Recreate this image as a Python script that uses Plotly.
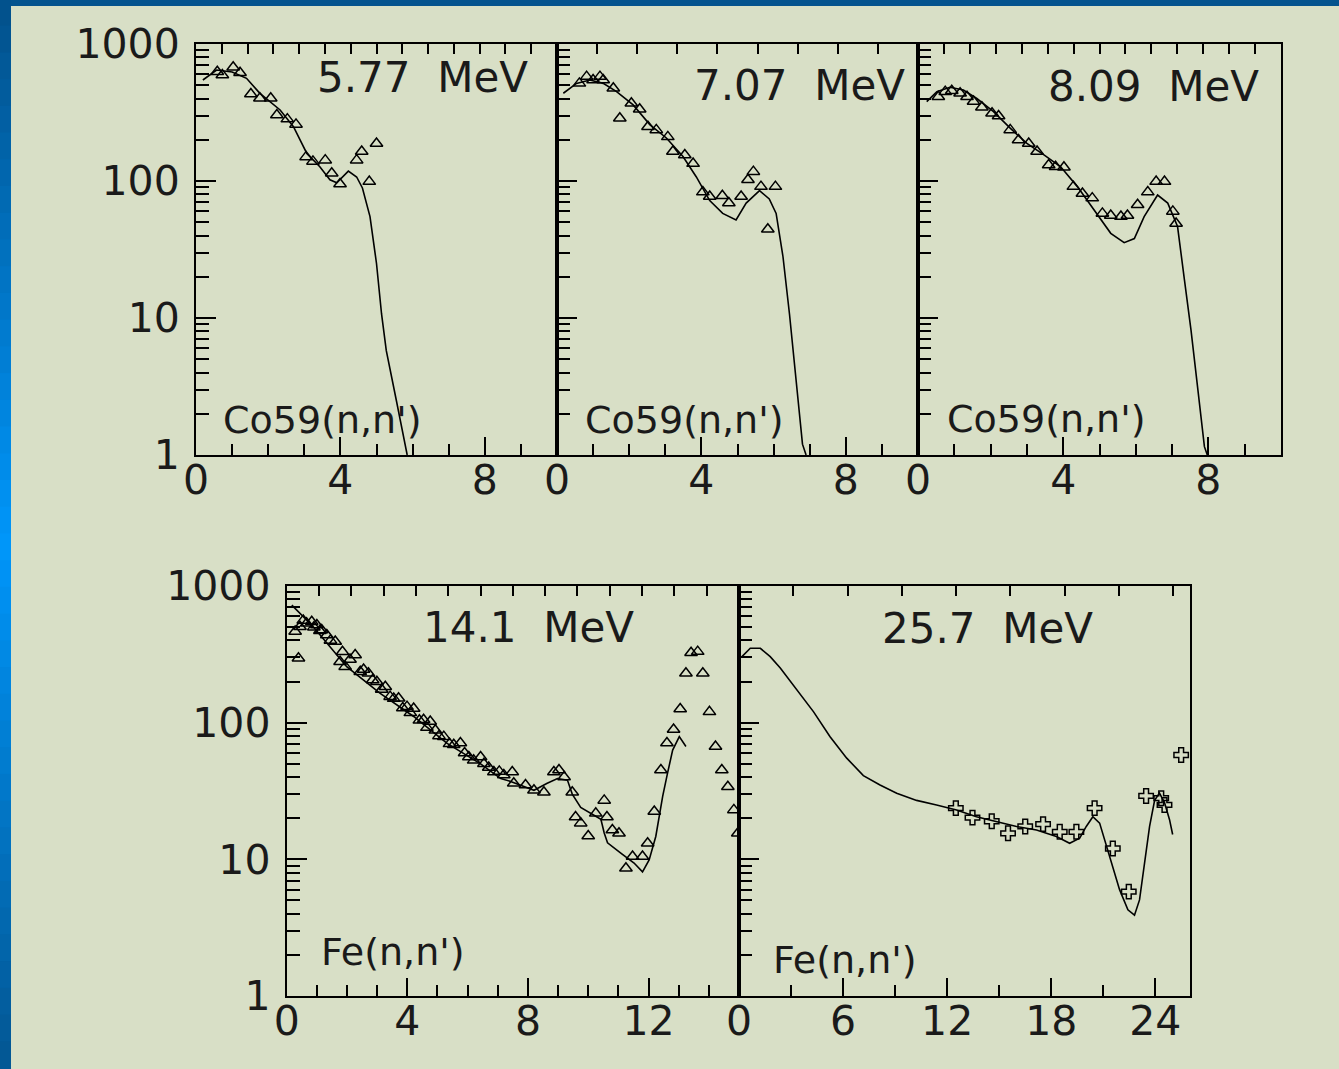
import plotly.graph_objects as go

# ---------------- data ----------------
# Panel 1: Co59(n,n') 5.77 MeV
p1_curve_x = [0.19, 0.57, 1.0, 1.4, 1.77, 2.33, 2.7, 3.07, 3.43, 3.71, 3.9, 4.22, 4.45, 4.61, 4.82, 5.0, 5.14, 5.27, 5.55, 5.85]
p1_curve_y = [546, 646, 625, 562, 436, 330, 249, 159, 127, 102, 97, 118, 107, 89, 55, 25, 10.7, 5.8, 2.5, 1.0]
p1_pts_x = [0.59, 0.73, 1.03, 1.22, 1.52, 1.77, 2.07, 2.24, 2.53, 2.77, 3.05, 3.24, 3.58, 3.76, 3.99, 4.45, 4.59, 5.0, 4.80]
p1_pts_y = [628, 594, 676, 617, 431, 402, 402, 303, 283, 259, 150, 139, 142, 114, 95, 142, 164, 188, 99]

# Panel 2: Co59(n,n') 7.07 MeV
p2_curve_x = [0.175, 0.54, 0.91, 1.28, 1.65, 2.11, 2.57, 3.03, 3.49, 3.86, 4.23, 4.59, 4.96, 5.24, 5.61, 5.88, 6.07, 6.26, 6.44, 6.62, 6.80, 6.9]
p2_curve_y = [437, 516, 546, 516, 449, 359, 258, 206, 151, 107, 72, 58, 52, 69, 85, 74, 58, 28, 10.7, 3.5, 1.2, 1.0]
p2_pts_x = [0.62, 0.82, 1.0, 1.19, 1.28, 1.56, 1.74, 2.06, 2.29, 2.52, 2.75, 3.07, 3.21, 3.54, 3.77, 4.04, 4.23, 4.58, 4.76, 5.10, 5.29, 5.44, 5.65, 6.05, 5.84]
p2_pts_y = [516, 578, 546, 578, 546, 475, 287, 369, 334, 249, 236, 210, 164, 155, 134, 83, 77, 78, 69, 77, 102, 117, 91, 91, 44.5]

# Panel 3: Co59(n,n') 8.09 MeV
p3_curve_x = [0.24, 0.52, 0.88, 1.25, 1.62, 2.08, 2.54, 3.0, 3.47, 3.93, 4.39, 4.85, 5.31, 5.68, 5.96, 6.23, 6.60, 6.88, 7.15, 7.34, 7.52, 7.71, 7.89, 7.97]
p3_curve_y = [380, 449, 483, 461, 400, 321, 243, 188, 155, 127, 91, 61.6, 41.5, 35.5, 38, 55, 79, 69, 46.5, 19, 8.2, 3.0, 1.15, 1.0]
p3_pts_x = [0.56, 0.75, 0.93, 1.16, 1.35, 1.53, 1.76, 2.04, 2.22, 2.54, 2.77, 3.05, 3.28, 3.60, 3.79, 4.02, 4.28, 4.53, 4.80, 5.08, 5.31, 5.59, 5.77, 6.05, 6.33, 6.56, 6.79, 7.02, 7.11]
p3_pts_y = [412, 449, 456, 437, 412, 380, 345, 312, 298, 236, 199, 188, 164, 131, 127, 126, 91, 81, 75, 58, 56, 55, 56, 67, 83, 99, 99, 60, 49]

# Panel 4: Fe(n,n') 14.1 MeV
p4_curve_x = [0.17, 0.5, 0.77, 0.88, 1.99, 3.10, 4.21, 5.32, 6.43, 7.1, 7.45, 8.2, 8.64, 8.98, 9.31, 9.47, 9.75, 10.08, 10.42, 10.53, 10.64, 11.08, 11.52, 11.8, 12.02, 12.24, 12.47, 12.63, 12.80, 13.02, 13.24]
p4_curve_y = [724, 610, 533, 503, 257, 164, 111, 70.5, 50, 39, 37, 32, 36, 39, 38, 30, 24, 21.7, 19.6, 15.6, 13.2, 11.1, 9.4, 8.1, 9.9, 14.7, 29, 42.7, 63, 79, 67]
p4_pts_x = [0.39, 0.28, 0.44, 0.66, 0.83, 1.0, 1.16, 1.33, 1.61, 1.77, 1.94, 2.27, 2.44, 2.71, 2.99, 3.27, 3.43, 3.71, 3.99,
            4.21, 4.54, 4.76, 4.93, 5.21, 5.54, 5.76, 6.04, 6.43, 6.54, 6.87, 7.2, 7.48, 7.53, 7.92, 8.2, 8.53, 8.86,
            9.03, 9.2, 9.47, 9.58, 9.75, 10.0, 10.25, 10.53, 10.62, 10.8, 11.02, 11.25, 11.47, 11.8, 11.97, 12.19,
            12.41, 12.61, 12.83, 13.05, 13.24, 13.41, 13.63, 13.80, 14.02, 14.22, 14.43, 14.63, 14.83, 14.96,
            0.55, 0.9, 1.1, 1.45, 1.85, 2.1, 2.55, 2.85, 3.15, 3.55, 3.85, 4.1, 4.4, 4.65, 5.05, 5.4, 5.9, 6.2, 6.7, 7.05]
p4_pts_y = [296, 464, 503, 533, 548, 519, 477, 438, 392, 279, 257, 313, 236, 230, 199, 183, 155, 151, 131,
            127, 105, 102, 88, 79, 69, 71, 56, 56, 50, 43.6, 41.4, 43.6, 36, 35, 32, 31, 43.6,
            45, 40, 31, 20.4, 18.4, 14.8, 21.7, 27, 20.4, 16.4, 15.5, 8.6, 10.5, 10.5, 13.1, 22.4,
            45, 71, 89, 126, 230, 325, 331, 230, 120, 67, 45, 34, 23, 15.5,
            560, 500, 470, 400, 330, 290, 245, 205, 175, 150, 128, 118, 104, 92, 80, 70, 60, 53, 47, 44]

# Panel 5: Fe(n,n') 25.7 MeV
p5_curve_x = [0.17, 0.65, 1.23, 1.80, 2.38, 3.34, 4.30, 5.25, 6.21, 7.17, 8.13, 9.09, 10.24, 11.39, 12.54, 13.69, 14.84, 16.0,
              17.15, 18.3, 19.06, 19.64, 20.02, 20.4, 20.79, 21.36, 21.94, 22.42, 22.8, 23.09, 23.38, 23.67, 23.96, 24.24,
              24.53, 24.82, 25.0]
p5_curve_y = [304, 350, 350, 304, 251, 174, 120, 79, 55, 41, 35, 30.5, 27, 25, 23, 20.5, 18.9, 17.4,
              16.4, 14.7, 13.1, 14.3, 17.4, 20.5, 18.4, 10.5, 6.0, 4.27, 3.9, 5.05, 9.3, 17.4, 27, 30.5,
              26, 19.5, 15.2]
p5_pts_x = [12.5, 13.46, 14.57, 15.51, 16.5, 17.53, 18.49, 19.45, 20.5, 21.55, 22.47, 23.47, 24.34, 24.53, 25.49]
p5_pts_y = [23.7, 20.2, 19.0, 15.5, 17.4, 18.1, 15.9, 15.9, 23.7, 12.0, 5.8, 29.1, 28, 25, 58]

energy_labels = ["5.77\u00a0\u00a0MeV", "7.07\u00a0\u00a0MeV", "8.09\u00a0\u00a0MeV", "14.1\u00a0\u00a0MeV", "25.7\u00a0\u00a0MeV"]
reaction_labels = ["Co59(n,n')", "Co59(n,n')", "Co59(n,n')", "Fe(n,n')", "Fe(n,n')"]
y_tickvals = [1, 10, 100, 1000]
y_ticktext = ["1", "10", "100", "1000"]

# ---------------- layout geometry ----------------
W, H = 1339, 1069
BG = "#d8dfc6"
FONT = "DejaVu Sans ExtraLight, DejaVu Sans"
TXT = "#1a1a1a"


def fx(px):
    return px / W


def fy(py):
    return 1 - py / H


panels = [
    # (x-pixel span, y-pixel span, xrange, major dtick, minor dtick, show y labels, top-tick range)
    ((196, 557), (44, 455), [0, 10], 4, 1, True, 14),
    ((557, 918), (44, 455), [0, 10], 4, 1, False, 9),
    ((918, 1281), (44, 455), [0, 10], 4, 1, False, 14),
    ((286.7, 739), (586, 996), [0, 15], 4, 1, True, 14),
    ((739, 1190), (586, 996), [0, 26], 6, 3, False, 8.31),
]
label_pos = [
    ((0.627, 0.918), (0.35, 0.085)),
    ((0.673, 0.898), (0.352, 0.085)),
    ((0.65, 0.896), (0.352, 0.087)),
    ((0.534, 0.90), (0.234, 0.108)),
    ((0.551, 0.897), (0.2355, 0.088)),
]

curves = [(p1_curve_x, p1_curve_y), (p2_curve_x, p2_curve_y), (p3_curve_x, p3_curve_y),
          (p4_curve_x, p4_curve_y), (p5_curve_x, p5_curve_y)]
points = [(p1_pts_x, p1_pts_y), (p2_pts_x, p2_pts_y), (p3_pts_x, p3_pts_y),
          (p4_pts_x, p4_pts_y), (p5_pts_x, p5_pts_y)]
symbols = ["triangle-up-open"] * 4 + ["cross-open"]

minor_y = [m * 10 ** d for d in range(3) for m in range(2, 10)]

fig = go.Figure()
layout = dict(
    width=W, height=H, margin=dict(l=0, r=0, t=0, b=0, pad=0, autoexpand=False),
    paper_bgcolor=BG, plot_bgcolor="rgba(0,0,0,0)", showlegend=False,
    font=dict(family=FONT, color=TXT),
)
annotations = []

for i, (xs, ys, xr, dt, mdt, ylab, toprange) in enumerate(panels):
    n = i + 1
    sfx = "" if n == 1 else str(n)
    top = 5 + n
    xa = dict(
        domain=[fx(xs[0]), fx(xs[1])], range=xr, anchor="y" + sfx, automargin=False,
        showgrid=False, zeroline=False, showline=True, linecolor="black", linewidth=2, mirror=True,
        ticks="inside", ticklen=18, tickwidth=2, tickcolor="black", tick0=0, dtick=dt,
        minor=dict(ticks="inside", ticklen=11, tickwidth=2, tickcolor="black", tick0=0, dtick=mdt, showgrid=False),
        tickfont=dict(family=FONT, size=41, color=TXT), ticklabelstandoff=-12, fixedrange=True,
    )
    ya = dict(
        domain=[fy(ys[1]), fy(ys[0])], type="log", range=[0, 3], anchor="x" + sfx, automargin=False,
        showgrid=False, zeroline=False, showline=True, linecolor="black", linewidth=2, mirror=True,
        ticks="inside", ticklen=20, tickwidth=2, tickcolor="black",
        tickvals=y_tickvals, ticktext=y_ticktext, showticklabels=ylab,
        minor=dict(ticks="inside", ticklen=13, tickwidth=2, tickcolor="black", tickvals=minor_y, showgrid=False),
        tickfont=dict(family=FONT, size=41, color=TXT), ticklabelstandoff=6, fixedrange=True,
    )
    xt = dict(
        overlaying="x" + sfx, anchor="y" + sfx, side="top", range=[0, toprange], automargin=False,
        showgrid=False, zeroline=False, showline=False, showticklabels=False,
        ticks="inside", ticklen=10, tickwidth=2, tickcolor="black", tick0=0, dtick=1, fixedrange=True,
    )
    layout["xaxis" + sfx] = xa
    layout["yaxis" + sfx] = ya
    layout["xaxis" + str(top)] = xt

    cx, cy = curves[i]
    px_, py_ = points[i]
    fig.add_trace(go.Scatter(x=cx, y=cy, mode="lines", line=dict(color="black", width=1.6),
                             xaxis="x" + sfx, yaxis="y" + sfx, cliponaxis=True))
    fig.add_trace(go.Scatter(x=px_, y=py_, mode="markers",
                             marker=dict(symbol=symbols[i], size=11 if i < 4 else 12, color="black",
                                         line=dict(color="black", width=1.5)),
                             xaxis="x" + sfx, yaxis="y" + sfx, cliponaxis=True))
    # dummy trace so the top tick axis is drawn
    fig.add_trace(go.Scatter(x=[None], y=[None], mode="markers", xaxis="x" + str(top), yaxis="y" + sfx,
                             hoverinfo="skip"))

    (ex, ey), (rx, ry) = label_pos[i]
    annotations.append(dict(xref="x" + sfx + " domain", yref="y" + sfx + " domain", x=ex, y=ey,
                            text=energy_labels[i], showarrow=False, xanchor="center", yanchor="middle",
                            font=dict(family=FONT, size=42, color=TXT)))
    annotations.append(dict(xref="x" + sfx + " domain", yref="y" + sfx + " domain", x=rx, y=ry,
                            text=reaction_labels[i], showarrow=False, xanchor="center", yanchor="middle",
                            font=dict(family=FONT, size=38, color=TXT)))

# blue frame (decoration): top band and a vertical gradient on the left
shapes = [dict(type="rect", xref="paper", yref="paper", x0=0, x1=1, y0=fy(6), y1=1,
               fillcolor="#04538e", line=dict(width=0), layer="below")]
stops = [(0, (2, 80, 138)), (545, (0, 150, 250)), (1069, (3, 86, 146))]
N = 40
for k in range(N):
    y0p, y1p = k * H / N, (k + 1) * H / N
    mid = (y0p + y1p) / 2
    if mid <= stops[1][0]:
        t = mid / stops[1][0]
        a, b = stops[0][1], stops[1][1]
    else:
        t = (mid - stops[1][0]) / (stops[2][0] - stops[1][0])
        a, b = stops[1][1], stops[2][1]
    col = "rgb(%d,%d,%d)" % tuple(round(a[j] + (b[j] - a[j]) * t) for j in range(3))
    shapes.append(dict(type="rect", xref="paper", yref="paper", x0=0, x1=fx(11), y0=fy(y1p) - 0.001,
                       y1=fy(y0p) + 0.001, fillcolor=col, line=dict(width=0), layer="below"))

layout["annotations"] = annotations
layout["shapes"] = shapes
fig.update_layout(**layout)

fig.write_html("out.html", config={"displayModeBar": False},
               post_script="document.body.style.margin='0';document.body.style.overflow='hidden';")
